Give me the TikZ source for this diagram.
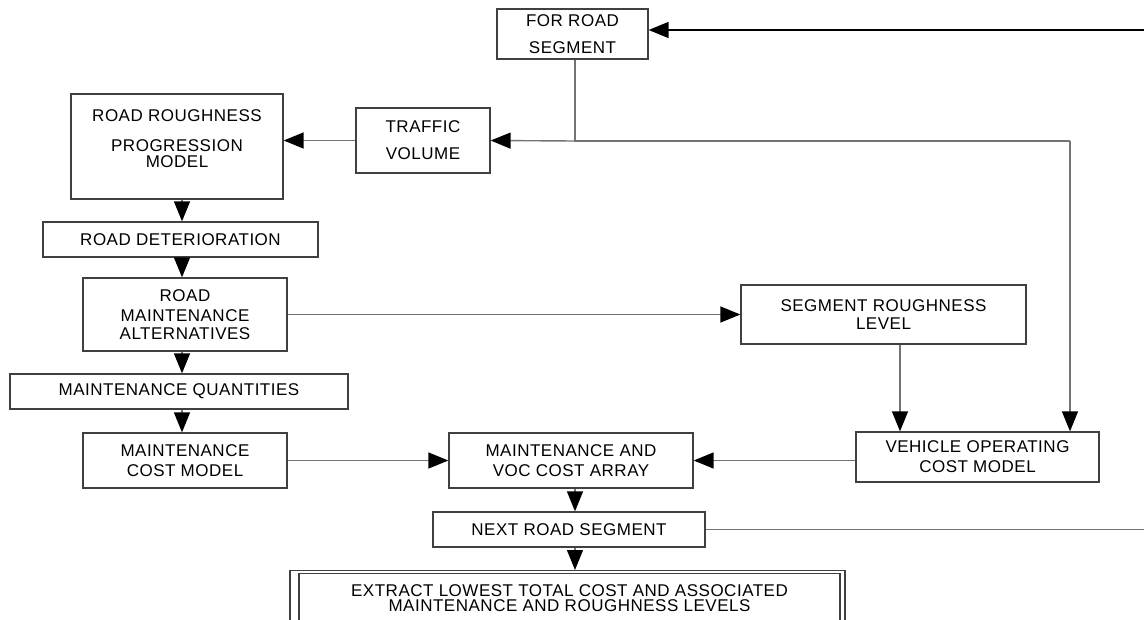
\documentclass[tikz,border=0pt]{standalone}
\usepackage{fontspec}
\setmainfont[LetterSpace=3]{Liberation Sans}
\usetikzlibrary{arrows.meta}

\begin{document}
\begin{tikzpicture}[x=1pt, y=-1pt, font=\fontsize{17}{18}\selectfont,
  box/.style={draw=black!75, line width=1.3pt, inner sep=0pt, align=center},
  link/.style={draw=black!55, line width=1.4pt},
  arr/.style={link, -{Triangle[length=20pt, width=16pt, color=black]}}]
\useasboundingbox (0,0) rectangle (1144,619);
\clip (0,0) rectangle (1144,619);
% boxes
\node[box, minimum width=151pt, minimum height=50pt] (forroad) at (572.5,34) {FOR ROAD\\[9pt]SEGMENT};
\node[box, minimum width=134pt, minimum height=65pt] (traffic) at (423,140.5) {TRAFFIC\\[9pt]VOLUME};
\node[box, minimum width=212pt, minimum height=105pt, text depth=16pt] (rough) at (177,146.5) {ROAD ROUGHNESS\\[12pt]PROGRESSION\\[-2pt]MODEL};
\node[box, minimum width=275pt, minimum height=35pt] (roaddet) at (180.5,239.5) {ROAD DETERIORATION};
\node[box, minimum width=204pt, minimum height=73pt] (maintalt) at (185,314.5) {ROAD\\[2pt]MAINTENANCE\\ALTERNATIVES};
\node[box, minimum width=338pt, minimum height=35pt] (maintqty) at (179,391.5) {MAINTENANCE QUANTITIES};
\node[box, minimum width=204pt, minimum height=55pt] (maintcost) at (185,460.5) {MAINTENANCE\\[2pt]COST MODEL};
\node[box, minimum width=244pt, minimum height=55pt] (voc) at (571,460.5) {MAINTENANCE AND\\[2pt]VOC COST ARRAY};
\node[box, minimum width=272pt, minimum height=35pt] (next) at (569,529.5) {NEXT ROAD SEGMENT};
\node[box, minimum width=555pt, minimum height=70pt, anchor=north] (outer) at (567.5,570) {};
\node[box, minimum width=541pt, minimum height=48pt, anchor=north, font=\fontsize{17}{15}\selectfont] (extract) at (569.5,573) {EXTRACT LOWEST TOTAL COST AND ASSOCIATED\\MAINTENANCE AND ROUGHNESS LEVELS};
\node[box, minimum width=285pt, minimum height=59pt] (seg) at (883.5,314.5) {SEGMENT ROUGHNESS\\LEVEL};
\node[box, minimum width=243pt, minimum height=50pt] (vehicle) at (977.5,457) {VEHICLE OPERATING\\[2pt]COST MODEL};
% connectors
\coordinate (topend) at (1144,30);
\coordinate (nextend) at (1144,527);
\coordinate (split) at (575,141);
\coordinate (turn) at (1070,141);
\coordinate (lc) at (182,0);
\coordinate (mc) at (575,0);
\draw[arr, draw=black, line width=1.6pt] (topend) -- (topend -| forroad.east);
\draw[link] (forroad.south -| split) -- (split) -- (turn);
\draw[arr] (turn) -- (turn |- vehicle.north);
\draw[arr] (split) -- (traffic.east);
\draw[arr] (traffic.west) -- (traffic.west -| rough.east);
\draw[arr] (rough.south -| lc) -- (roaddet.north -| lc);
\draw[arr] (roaddet.south -| lc) -- (maintalt.north -| lc);
\draw[arr] (maintalt.south -| lc) -- (maintqty.north -| lc);
\draw[arr] (maintqty.south -| lc) -- (maintcost.north -| lc);
\draw[arr] (maintalt.east) -- (seg.west);
\draw[arr] ([xshift=16.5pt]seg.south) -- ([xshift=16.5pt]seg.south |- vehicle.north);
\draw[arr] (vehicle.west |- voc.east) -- (voc.east);
\draw[arr] (maintcost.east) -- (voc.west);
\draw[arr] (voc.south -| mc) -- (next.north -| mc);
\draw[arr] (next.south -| mc) -- (outer.north -| mc);
\draw[link] (next.east) -- (next.east -| nextend);
\end{tikzpicture}
\end{document}
